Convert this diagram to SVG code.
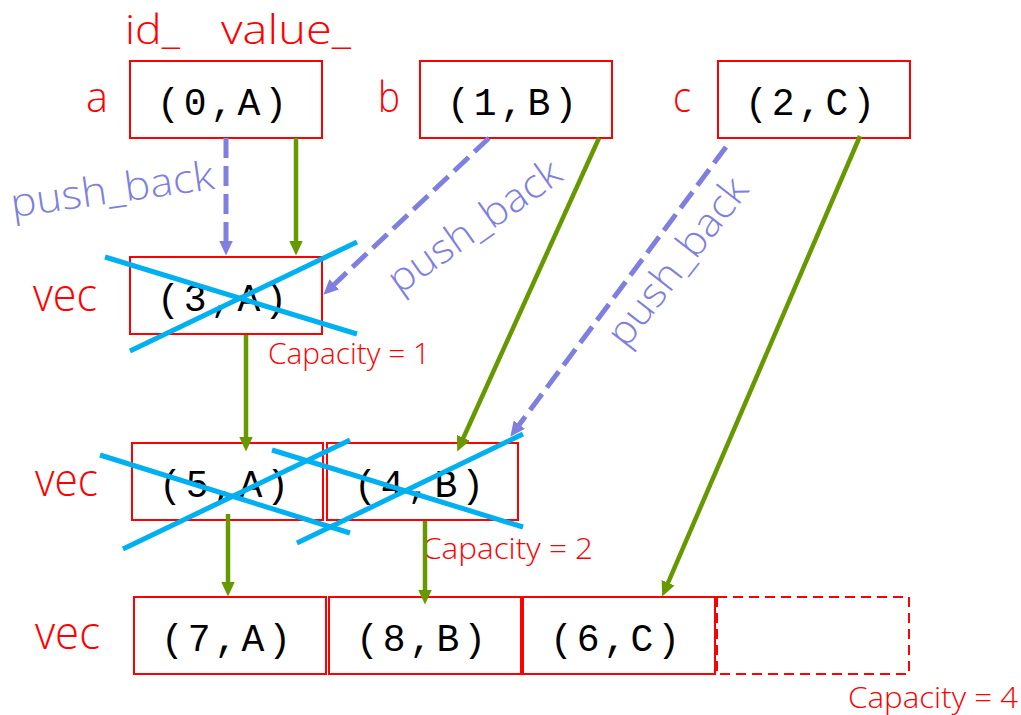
<svg xmlns="http://www.w3.org/2000/svg" width="1021" height="715" viewBox="0 0 1021 715">
<style>
.box{fill:#fff;stroke:#ff0000;stroke-width:2}
.ghost{fill:none;stroke:#ff0000;stroke-width:2;stroke-dasharray:10 6}
.val{font-family:"Liberation Mono","Courier New",monospace;font-size:38px;letter-spacing:4px;fill:#000;text-anchor:middle}
.hand{font-family:"Open Sans","Liberation Sans",sans-serif;font-weight:300;fill:#ff0000}
.pb{font-family:"Open Sans","Liberation Sans",sans-serif;font-weight:300;font-size:40px;fill:#7f7fe0;text-anchor:middle}
.cap{font-family:"Open Sans","Liberation Sans",sans-serif;font-weight:300;font-size:30px;fill:#ff0000}
.push{fill:none;stroke:#7f7fe0;stroke-width:5;stroke-dasharray:20 8}
.move{fill:none;stroke:#669900;stroke-width:4.5}
.strike{fill:none;stroke:#00b0f0;stroke-width:5}
</style>
<defs>
<marker id="ahP" viewBox="0 0 15 14" markerWidth="15" markerHeight="14" refX="0.5" refY="7" orient="auto" markerUnits="userSpaceOnUse"><path d="M0,0 L15,7 L0,14 z" fill="#7f7fe0"/></marker>
<marker id="ahG" viewBox="0 0 15 14" markerWidth="15" markerHeight="14" refX="0.5" refY="7" orient="auto" markerUnits="userSpaceOnUse"><path d="M0,0 L15,7 L0,14 z" fill="#669900"/></marker>
</defs>
<rect width="1021" height="715" fill="#fff"/>

<g id="labels">
<text class="hand" x="125" y="44" font-size="40" textLength="55" lengthAdjust="spacingAndGlyphs">id_</text>
<text class="hand" x="221" y="44" font-size="40" textLength="130" lengthAdjust="spacingAndGlyphs">value_</text>
<text class="hand" x="86" y="112" font-size="42" textLength="22" lengthAdjust="spacingAndGlyphs">a</text>
<text class="hand" x="378" y="112" font-size="42" textLength="22" lengthAdjust="spacingAndGlyphs">b</text>
<text class="hand" x="673" y="112" font-size="42" textLength="18" lengthAdjust="spacingAndGlyphs">c</text>
<text class="hand" x="33" y="311" font-size="46" textLength="64" lengthAdjust="spacingAndGlyphs">vec</text>
<text class="hand" x="35" y="496" font-size="46" textLength="63" lengthAdjust="spacingAndGlyphs">vec</text>
<text class="hand" x="35" y="649" font-size="46" textLength="65" lengthAdjust="spacingAndGlyphs">vec</text>
<text class="cap" x="268" y="364" textLength="162" lengthAdjust="spacingAndGlyphs">Capacity = 1</text>
<text class="cap" x="422" y="559" textLength="171" lengthAdjust="spacingAndGlyphs">Capacity = 2</text>
<text class="cap" x="848" y="708" textLength="170" lengthAdjust="spacingAndGlyphs">Capacity = 4</text>
<text class="pb" transform="translate(114,203) rotate(-8)" textLength="205" lengthAdjust="spacingAndGlyphs">push_back</text>
<text class="pb" transform="translate(482,237) rotate(-35)" textLength="202" lengthAdjust="spacingAndGlyphs">push_back</text>
<text class="pb" transform="translate(688,270) rotate(-52)" textLength="202" lengthAdjust="spacingAndGlyphs">push_back</text>
</g>

<g id="node-a"><rect class="box" x="130" y="61" width="192" height="77"/><text class="val" x="224" y="115">(0,A)</text></g>
<g id="node-b"><rect class="box" x="420" y="61" width="192" height="77"/><text class="val" x="514" y="115">(1,B)</text></g>
<g id="node-c"><rect class="box" x="718" y="61" width="192" height="77"/><text class="val" x="812" y="115">(2,C)</text></g>

<g id="vec1-0"><rect class="box" x="130" y="257" width="192" height="77"/><text class="val" x="224" y="311">(3,A)</text></g>

<g id="vec2-0"><rect class="box" x="132" y="443" width="191" height="77"/><text class="val" x="226" y="497">(5,A)</text></g>
<g id="vec2-1"><rect class="box" x="327" y="443" width="191" height="77"/><text class="val" x="421" y="497">(4,B)</text></g>

<g id="vec3-0"><rect class="box" x="134" y="597" width="192" height="77"/><text class="val" x="228" y="651">(7,A)</text></g>
<g id="vec3-1"><rect class="box" x="329" y="597" width="192" height="77"/><text class="val" x="423" y="651">(8,B)</text></g>
<g id="vec3-2"><rect class="box" x="523" y="597" width="192" height="77"/><text class="val" x="617" y="651">(6,C)</text></g>
<g id="vec3-3"><rect class="ghost" x="717" y="597" width="192" height="77"/></g>

<g id="connectors">
<line class="push" x1="226" y1="138" x2="226" y2="241" marker-end="url(#ahP)"/>
<line class="move" x1="296" y1="138" x2="296" y2="241" marker-end="url(#ahG)"/>
<line class="push" x1="489" y1="138" x2="333.9" y2="284.7" marker-end="url(#ahP)"/>
<line class="move" x1="599" y1="138" x2="463.2" y2="438.3" marker-end="url(#ahG)"/>
<line class="push" x1="726" y1="147" x2="519" y2="425" marker-end="url(#ahP)"/>
<line class="move" x1="860" y1="136" x2="667.9" y2="583.2" marker-end="url(#ahG)"/>
<line class="move" x1="246" y1="335" x2="246" y2="437" marker-end="url(#ahG)"/>
<line class="move" x1="228" y1="514" x2="228" y2="582" marker-end="url(#ahG)"/>
<line class="move" x1="425" y1="521" x2="425" y2="590" marker-end="url(#ahG)"/>
</g>

<g id="strikes">
<line class="strike" x1="105" y1="257" x2="357" y2="334"/>
<line class="strike" x1="130" y1="351" x2="357" y2="242"/>
<line class="strike" x1="100" y1="455" x2="350" y2="533"/>
<line class="strike" x1="123" y1="549" x2="350" y2="440"/>
<line class="strike" x1="272" y1="450" x2="523" y2="527"/>
<line class="strike" x1="297" y1="543" x2="523" y2="434"/>
</g>
</svg>
